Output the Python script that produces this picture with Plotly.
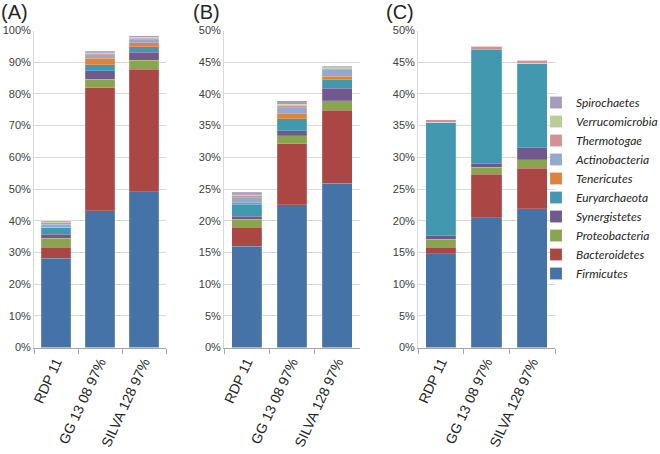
import plotly.graph_objects as go

categories = ["RDP 11", "GG 13 08 97%", "SILVA 128 97%"]
phyla = ["Firmicutes", "Bacteroidetes", "Proteobacteria", "Synergistetes", "Euryarchaeota",
         "Tenericutes", "Actinobacteria", "Thermotogae", "Verrucomicrobia", "Spirochaetes"]
colors = ["#4572A7", "#AA4643", "#89A54E", "#71588F", "#4198AF",
          "#DB843D", "#93A9CF", "#D19392", "#B9CD96", "#A99BBD"]

# Panel A (fractions of reads)
panel_a = {
    "Firmicutes":      [0.282, 0.431, 0.491],
    "Bacteroidetes":   [0.034, 0.388, 0.386],
    "Proteobacteria":  [0.028, 0.028, 0.029],
    "Synergistetes":   [0.014, 0.026, 0.025],
    "Euryarchaeota":   [0.019, 0.019, 0.017],
    "Tenericutes":     [0.003, 0.021, 0.014],
    "Actinobacteria":  [0.009, 0.010, 0.009],
    "Thermotogae":     [0.004, 0.004, 0.004],
    "Verrucomicrobia": [0.003, 0.003, 0.004],
    "Spirochaetes":    [0.004, 0.004, 0.004],
}
# Panel B
panel_b = {
    "Firmicutes":      [0.160, 0.225, 0.259],
    "Bacteroidetes":   [0.030, 0.096, 0.115],
    "Proteobacteria":  [0.012, 0.013, 0.015],
    "Synergistetes":   [0.005, 0.008, 0.020],
    "Euryarchaeota":   [0.019, 0.019, 0.014],
    "Tenericutes":     [0.002, 0.008, 0.005],
    "Actinobacteria":  [0.008, 0.009, 0.010],
    "Thermotogae":     [0.003, 0.003, 0.002],
    "Verrucomicrobia": [0.002, 0.003, 0.003],
    "Spirochaetes":    [0.004, 0.005, 0.001],
}
# Panel C
panel_c = {
    "Firmicutes":      [0.148, 0.205, 0.219],
    "Bacteroidetes":   [0.010, 0.068, 0.064],
    "Proteobacteria":  [0.013, 0.011, 0.013],
    "Synergistetes":   [0.005, 0.007, 0.019],
    "Euryarchaeota":   [0.179, 0.179, 0.133],
    "Tenericutes":     [0.000, 0.000, 0.000],
    "Actinobacteria":  [0.000, 0.000, 0.000],
    "Thermotogae":     [0.004, 0.005, 0.005],
    "Verrucomicrobia": [0.000, 0.000, 0.000],
    "Spirochaetes":    [0.000, 0.000, 0.000],
}
panel_labels = ["(A)", "(B)", "(C)"]

W, H = 660, 454


def fx(px):
    return px / W


def fy(py):
    return 1 - py / H


fig = go.Figure()
panels = [panel_a, panel_b, panel_c]
for pi, panel in enumerate(panels):
    suffix = "" if pi == 0 else str(pi + 1)
    for name, col in zip(phyla, colors):
        fig.add_trace(go.Bar(
            x=categories, y=panel[name], name=name,
            marker=dict(color=col, line=dict(color="rgba(255,255,255,0.35)", width=0.5)),
            xaxis="x" + suffix, yaxis="y" + suffix,
            showlegend=(pi == 2), width=0.66,
        ))

xdom = [(34, 166), (224, 360), (418, 555)]
ydom = [fy(347.5), fy(30.5)]
yranges = [[0, 1.0], [0, 0.5], [0, 0.5]]
dticks = [0.1, 0.05, 0.05]
lay = {}
for i in range(3):
    sfx = "" if i == 0 else str(i + 1)
    lay["xaxis" + sfx] = dict(
        domain=[fx(xdom[i][0]), fx(xdom[i][1])], anchor="y" + sfx, automargin=False,
        showline=True, linecolor="#a6a6a6", linewidth=1,
        ticks="outside", tickson="boundaries", ticklen=5, tickcolor="#a6a6a6",
        tickangle=-65, tickfont=dict(family="Liberation Sans, Arial", size=14, color="#262626"),
        showgrid=False,
    )
    lay["yaxis" + sfx] = dict(
        domain=ydom, anchor="x" + sfx, range=yranges[i], dtick=dticks[i], automargin=False,
        tickformat=".0%", showline=True, linecolor="#d9d9d9", linewidth=1,
        gridcolor="#d9d9d9", gridwidth=1, zeroline=False,
        tickfont=dict(family="Liberation Sans, Arial", size=11, color="#404040"),
        ticks="", ticklen=0,
    )

annotations = []
for lbl, xp in zip(panel_labels, [0, 192, 385]):
    annotations.append(dict(text=lbl, x=fx(xp), y=1.0, xref="paper", yref="paper",
                            xanchor="left", yanchor="top", showarrow=False, borderpad=0,
                            font=dict(family="Liberation Sans, Arial", size=20, color="#262626")))

fig.update_layout(
    width=W, height=H, barmode="stack", bargap=0.34,
    margin=dict(l=0, r=0, t=0, b=0, autoexpand=False),
    plot_bgcolor="white", paper_bgcolor="white",
    legend=dict(x=fx(536), y=fy(188), xanchor="left", yanchor="middle",
                traceorder="reversed", tracegroupgap=0,
                font=dict(family="Lato, DejaVu Sans", size=12, color="#262626", style="italic"),
                itemwidth=30, bgcolor="rgba(0,0,0,0)"),
    annotations=annotations,
    **lay,
)
# remove the default page margin so the figure sits at the window's top-left corner
fig.write_html("out.html", config={"displayModeBar": False},
               post_script="document.body.style.margin='0px';")
